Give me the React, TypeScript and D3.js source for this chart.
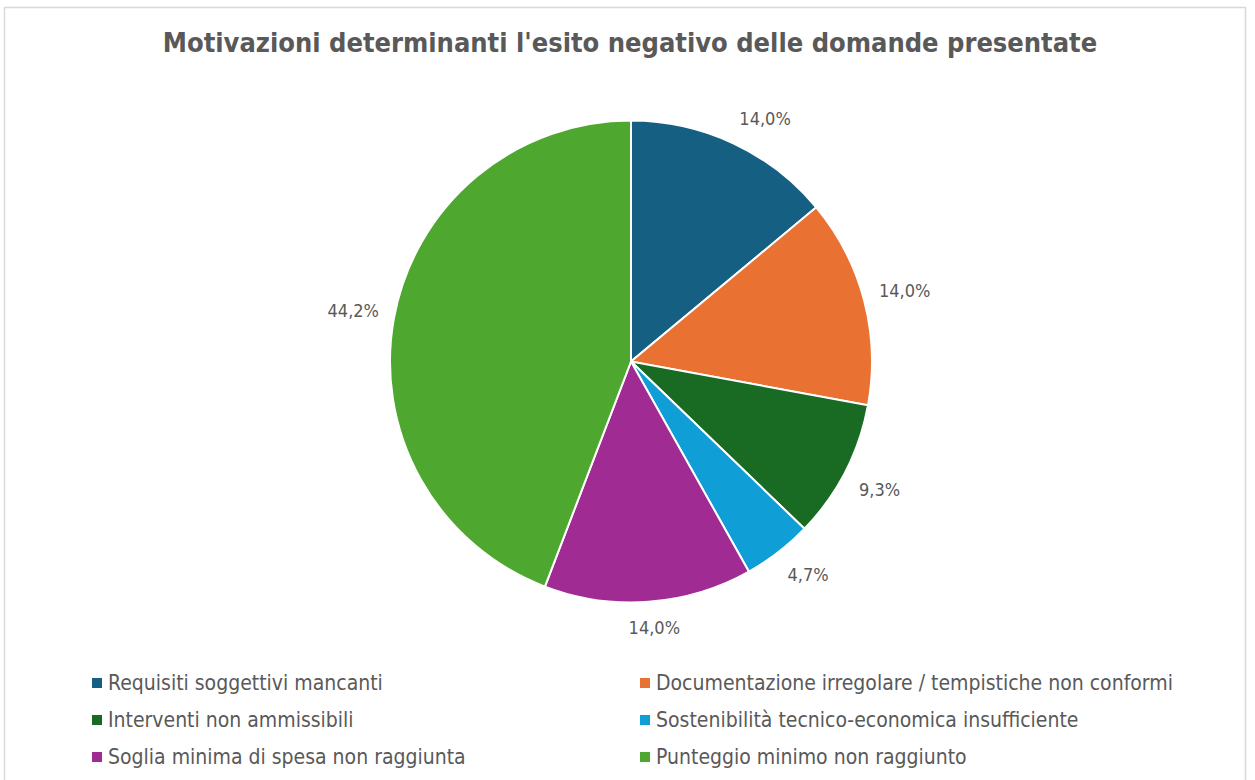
import React from "react";
import * as d3 from "d3";

const categories = [
  "Requisiti soggettivi mancanti",
  "Documentazione irregolare / tempistiche non conformi",
  "Interventi non ammissibili",
  "Sostenibilità tecnico-economica insufficiente",
  "Soglia minima di spesa non raggiunta",
  "Punteggio minimo non raggiunto",
];
const values = [6, 6, 4, 2, 6, 19];
const colors = ["#156082", "#E97132", "#196B24", "#0F9ED5", "#A02B93", "#4EA72E"];
const title = "Motivazioni determinanti l'esito negativo delle domande presentate";

const W = 1255;
const H = 780;
const FONT = "'DejaVu Sans Condensed', 'DejaVu Sans', sans-serif";
const TEXT = "#595959";

export default function App() {
  const cx = 631;
  const cy = 361.5;
  const r = 241;
  const total = d3.sum(values);
  const pie = d3.pie<number>().sort(null).value((d) => d);
  const arcs = pie(values);
  const arcGen = d3.arc<d3.PieArcDatum<number>>().innerRadius(0).outerRadius(r);
  const fmt = (v: number) => (Math.round((v / total) * 1000) / 10).toFixed(1).replace(".", ",") + "%";
  const clamp = (v: number) => Math.max(-1, Math.min(1, v * 2.5));

  const legendRows = [0, 1, 2].map((i) => 683 + i * 37);
  const legendCols = [92, 640];

  return (
    <div style={{ position: "fixed", left: 0, top: 0, width: W, height: H, background: "#fff" }}>
      <svg width={W} height={H} style={{ display: "block" }}>
        <rect x={0} y={0} width={W} height={H} fill="#fff" />
        <rect x={4.5} y={7.5} width={1241} height={H} fill="none" stroke="#d9d9d9" strokeWidth={1.5} />
        <text x={630} y={42} textAnchor="middle" dominantBaseline="central" fontFamily={FONT} fontWeight="bold" fontSize={27} fill={TEXT}>
          {title}
        </text>
        <g transform={`translate(${cx},${cy})`}>
          {arcs.map((a, i) => (
            <path key={i} d={arcGen(a) || ""} fill={colors[i]} stroke="#fff" strokeWidth={2} />
          ))}
          {arcs.map((a, i) => {
            const label = fmt(values[i]);
            const ang = (a.startAngle + a.endAngle) / 2;
            const s = Math.sin(ang);
            const c = -Math.cos(ang);
            const R = r + 16;
            const hw = label.length * 5;
            const hh = 10;
            const x = s * R + hw * clamp(s);
            const y = c * R + hh * clamp(c);
            return (
              <text key={"l" + i} x={x} y={y} textAnchor="middle" dominantBaseline="central" fontFamily={FONT} fontSize={18} fill={TEXT}>
                {label}
              </text>
            );
          })}
        </g>
        {categories.map((cat, i) => {
          const col = i % 2;
          const row = Math.floor(i / 2);
          const x = legendCols[col];
          const y = legendRows[row];
          return (
            <g key={cat}>
              <rect x={x} y={y - 5} width={10} height={10} fill={colors[i]} />
              <text x={x + 16} y={y} dominantBaseline="central" fontFamily={FONT} fontSize={21} fill={TEXT}>
                {cat}
              </text>
            </g>
          );
        })}
      </svg>
    </div>
  );
}
